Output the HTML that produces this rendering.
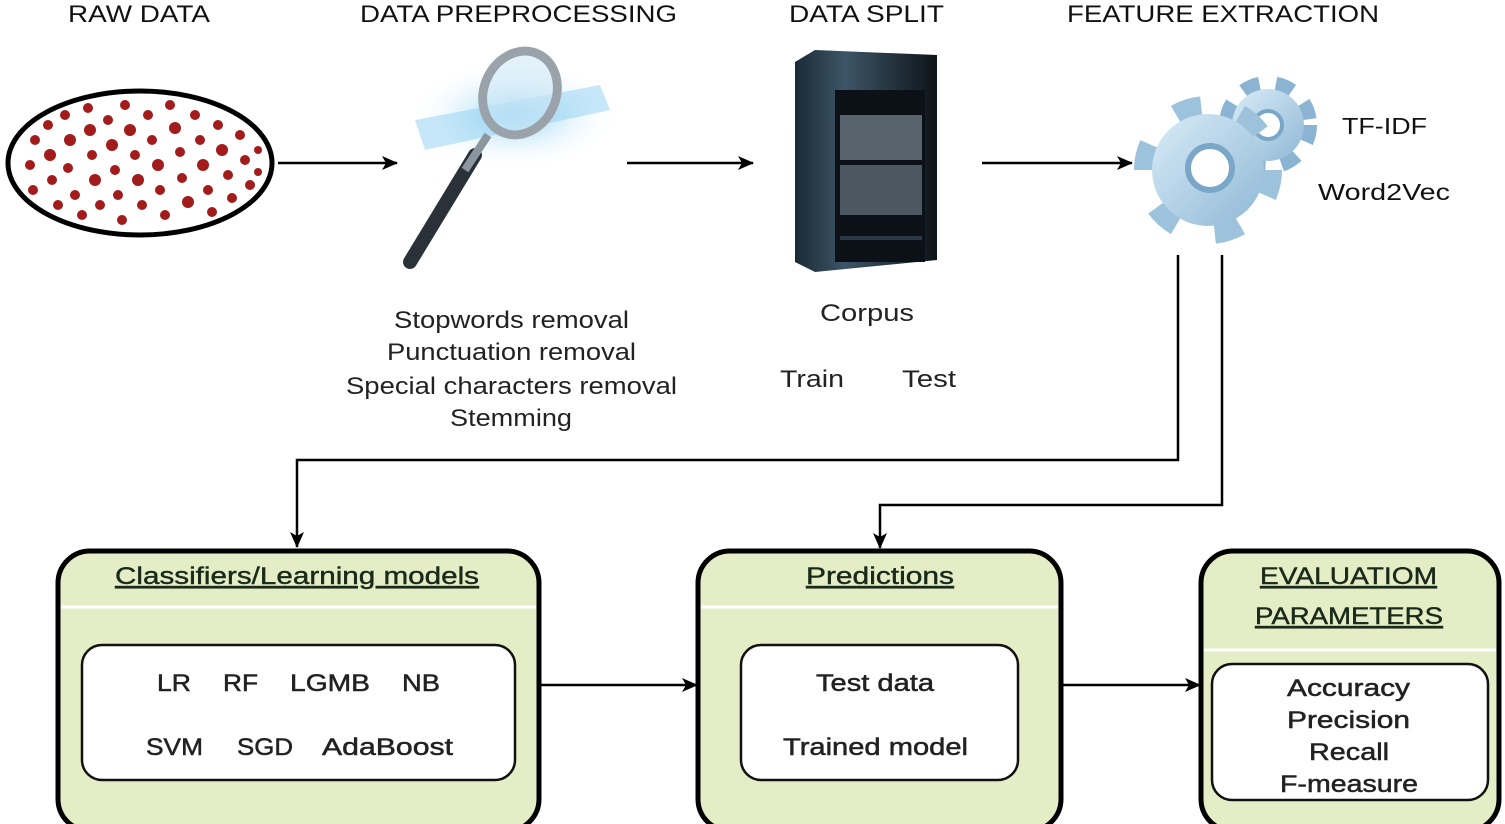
<!DOCTYPE html>
<html><head><meta charset="utf-8"><style>
html,body{margin:0;padding:0;background:#fff;}
svg{display:block;font-family:"Liberation Sans",Arial,sans-serif;}
</style></head><body>
<svg width="1505" height="824" viewBox="0 0 1505 824" xmlns="http://www.w3.org/2000/svg">
<defs>
<marker id="ah" markerWidth="16" markerHeight="14" refX="15" refY="7" orient="auto" markerUnits="userSpaceOnUse"><path d="M0,0 L16,7 L0,14 L4,7 Z" fill="#000"/></marker>
<linearGradient id="rack" x1="0" x2="1"><stop offset="0" stop-color="#1b2a36"/><stop offset=".35" stop-color="#3d5566"/><stop offset="1" stop-color="#0d1419"/></linearGradient>
<radialGradient id="glow" cx=".5" cy=".5" r=".5"><stop offset="0" stop-color="#6ec4f0"/><stop offset="1" stop-color="#ffffff" stop-opacity="0"/></radialGradient>
<linearGradient id="gear" x1="0" y1="0" x2="1" y2="1"><stop offset="0" stop-color="#d9ecf7"/><stop offset="1" stop-color="#8fb8d6"/></linearGradient>
</defs>

<g font-size="24" fill="#111" lengthAdjust="spacingAndGlyphs">
<text x="68" y="22" textLength="142" lengthAdjust="spacingAndGlyphs">RAW DATA</text>
<text x="360" y="22" textLength="317" lengthAdjust="spacingAndGlyphs">DATA PREPROCESSING</text>
<text x="789" y="22" textLength="155" lengthAdjust="spacingAndGlyphs">DATA SPLIT</text>
<text x="1067" y="22" textLength="312" lengthAdjust="spacingAndGlyphs">FEATURE EXTRACTION</text>
</g>

<!-- raw data ellipse -->
<ellipse cx="140" cy="163" rx="132" ry="72" fill="#fff" stroke="#000" stroke-width="5"/>
<g fill="#a31c1c">
<circle cx="30" cy="165" r="5"/><circle cx="35" cy="140" r="5"/><circle cx="33" cy="190" r="5"/><circle cx="48" cy="125" r="5"/><circle cx="50" cy="155" r="6"/><circle cx="52" cy="180" r="5"/><circle cx="58" cy="205" r="5"/>
<circle cx="65" cy="115" r="5"/><circle cx="70" cy="140" r="6"/><circle cx="68" cy="168" r="5"/><circle cx="75" cy="195" r="5"/><circle cx="82" cy="215" r="5"/>
<circle cx="88" cy="108" r="5"/><circle cx="90" cy="130" r="6"/><circle cx="92" cy="155" r="5"/><circle cx="95" cy="180" r="6"/><circle cx="100" cy="205" r="5"/>
<circle cx="108" cy="120" r="5"/><circle cx="112" cy="145" r="6"/><circle cx="115" cy="170" r="5"/><circle cx="118" cy="195" r="5"/><circle cx="122" cy="220" r="5"/>
<circle cx="125" cy="105" r="5"/><circle cx="130" cy="130" r="6"/><circle cx="135" cy="155" r="5"/><circle cx="138" cy="180" r="6"/><circle cx="142" cy="205" r="5"/>
<circle cx="148" cy="115" r="5"/><circle cx="152" cy="140" r="5"/><circle cx="158" cy="165" r="6"/><circle cx="160" cy="190" r="5"/><circle cx="165" cy="215" r="5"/>
<circle cx="170" cy="105" r="5"/><circle cx="175" cy="128" r="6"/><circle cx="180" cy="152" r="5"/><circle cx="182" cy="178" r="5"/><circle cx="188" cy="202" r="6"/>
<circle cx="195" cy="115" r="5"/><circle cx="200" cy="140" r="5"/><circle cx="203" cy="165" r="6"/><circle cx="208" cy="190" r="5"/><circle cx="212" cy="212" r="5"/>
<circle cx="218" cy="125" r="5"/><circle cx="222" cy="150" r="6"/><circle cx="228" cy="175" r="5"/><circle cx="232" cy="198" r="5"/>
<circle cx="240" cy="135" r="5"/><circle cx="245" cy="160" r="5"/><circle cx="250" cy="185" r="5"/><circle cx="258" cy="150" r="4"/><circle cx="258" cy="172" r="4"/>
</g>

<!-- magnifier -->
<ellipse cx="515" cy="115" rx="105" ry="55" fill="url(#glow)" opacity=".8"/>
<path d="M415,120 L600,85 L610,110 L425,150 Z" fill="#8fd0f2" opacity=".5"/>
<line x1="475" y1="155" x2="410" y2="262" stroke="#2b3138" stroke-width="14" stroke-linecap="round"/>
<line x1="488" y1="135" x2="465" y2="170" stroke="#8c969e" stroke-width="8"/>
<ellipse cx="520" cy="93" rx="36" ry="43" transform="rotate(25 520 93)" fill="#cfe8f7" fill-opacity=".6" stroke="#9aa3aa" stroke-width="9"/>

<!-- server rack -->
<path d="M795,62 L815,50 L937,55 L937,260 L815,272 L795,262 Z" fill="url(#rack)"/>
<rect x="835" y="90" width="90" height="172" fill="#0b1116"/>
<rect x="840" y="115" width="82" height="45" fill="#56636c"/>
<rect x="840" y="165" width="82" height="50" fill="#4c5860"/>
<line x1="840" y1="238" x2="922" y2="238" stroke="#2a3a45" stroke-width="4"/>

<!-- gears -->
<g>
<circle cx="1268" cy="125" r="38" fill="none" stroke="#8bb4d2" stroke-width="22" stroke-dasharray="16 15"/>
<circle cx="1268" cy="125" r="36" fill="url(#gear)"/>
<circle cx="1268" cy="125" r="14" fill="#fff" stroke="#7aa6c8" stroke-width="4"/>
<circle cx="1208" cy="170" r="60" fill="none" stroke="#9dc2dc" stroke-width="28" stroke-dasharray="25 37.8"/>
<circle cx="1208" cy="170" r="56" fill="url(#gear)"/>
<circle cx="1210" cy="168" r="22" fill="#fff" stroke="#7aa6c8" stroke-width="6"/>
</g>
<g font-size="23" fill="#111">
<text x="1342" y="134" textLength="85" lengthAdjust="spacingAndGlyphs">TF-IDF</text>
<text x="1318" y="200" textLength="132" lengthAdjust="spacingAndGlyphs">Word2Vec</text>
</g>

<!-- arrows -->
<g stroke="#000" stroke-width="2.5" fill="none">
<line x1="278" y1="163" x2="397" y2="163" marker-end="url(#ah)"/>
<line x1="627" y1="163" x2="753" y2="163" marker-end="url(#ah)"/>
<line x1="982" y1="163" x2="1132" y2="163" marker-end="url(#ah)"/>
<polyline points="1178,255 1178,460 297,460 297,547" marker-end="url(#ah)"/>
<polyline points="1222,255 1222,505 880,505 880,548" marker-end="url(#ah)"/>
<line x1="540" y1="685" x2="697" y2="685" marker-end="url(#ah)"/>
<line x1="1062" y1="685" x2="1200" y2="685" marker-end="url(#ah)"/>
</g>

<g font-size="24" fill="#222">
<text x="394" y="328" textLength="235" lengthAdjust="spacingAndGlyphs">Stopwords removal</text>
<text x="387" y="360" textLength="249" lengthAdjust="spacingAndGlyphs">Punctuation removal</text>
<text x="346" y="394" textLength="331" lengthAdjust="spacingAndGlyphs">Special characters removal</text>
<text x="450" y="426" textLength="122" lengthAdjust="spacingAndGlyphs">Stemming</text>
<text x="820" y="321" textLength="94" lengthAdjust="spacingAndGlyphs">Corpus</text>
<text x="780" y="387" textLength="64" lengthAdjust="spacingAndGlyphs">Train</text>
<text x="902" y="387" textLength="54" lengthAdjust="spacingAndGlyphs">Test</text>
</g>

<!-- boxes -->
<g stroke="#000" stroke-width="5" fill="#e4edc6">
<rect x="58" y="551" width="481" height="280" rx="32"/>
<rect x="698" y="551" width="363" height="280" rx="32"/>
<rect x="1201" y="551" width="298" height="280" rx="32"/>
</g>
<g stroke="#fff" stroke-width="3">
<line x1="61" y1="607" x2="536" y2="607"/>
<line x1="701" y1="607" x2="1058" y2="607"/>
<line x1="1204" y1="650" x2="1496" y2="650"/>
</g>
<g stroke="#111" stroke-width="2.5" fill="#fff">
<rect x="82" y="645" width="433" height="135" rx="20"/>
<rect x="741" y="645" width="277" height="135" rx="20"/>
<rect x="1212" y="664" width="276" height="136" rx="20"/>
</g>
<g font-size="24" fill="#1a2a1a" text-decoration="underline" stroke="#1a2a1a" stroke-width="0.4">
<text x="115" y="584" textLength="364" lengthAdjust="spacingAndGlyphs">Classifiers/Learning models</text>
<text x="806" y="584" textLength="148" lengthAdjust="spacingAndGlyphs">Predictions</text>
<text x="1260" y="584" textLength="177" lengthAdjust="spacingAndGlyphs">EVALUATIOM</text>
<text x="1255" y="624" textLength="188" lengthAdjust="spacingAndGlyphs">PARAMETERS</text>
</g>
<g font-size="24" fill="#222" stroke="#222" stroke-width="0.5">
<text x="157" y="691" textLength="34" lengthAdjust="spacingAndGlyphs">LR</text>
<text x="223" y="691" textLength="35" lengthAdjust="spacingAndGlyphs">RF</text>
<text x="290" y="691" textLength="80" lengthAdjust="spacingAndGlyphs">LGMB</text>
<text x="402" y="691" textLength="38" lengthAdjust="spacingAndGlyphs">NB</text>
<text x="146" y="755" textLength="57" lengthAdjust="spacingAndGlyphs">SVM</text>
<text x="237" y="755" textLength="56" lengthAdjust="spacingAndGlyphs">SGD</text>
<text x="322" y="755" textLength="131" lengthAdjust="spacingAndGlyphs">AdaBoost</text>
<text x="816" y="691" textLength="118" lengthAdjust="spacingAndGlyphs">Test data</text>
<text x="783" y="755" textLength="185" lengthAdjust="spacingAndGlyphs">Trained model</text>
<text x="1287" y="696" textLength="123" lengthAdjust="spacingAndGlyphs">Accuracy</text>
<text x="1287" y="728" textLength="123" lengthAdjust="spacingAndGlyphs">Precision</text>
<text x="1309" y="760" textLength="80" lengthAdjust="spacingAndGlyphs">Recall</text>
<text x="1280" y="792" textLength="138" lengthAdjust="spacingAndGlyphs">F-measure</text>
</g>
</svg>
</body></html>
